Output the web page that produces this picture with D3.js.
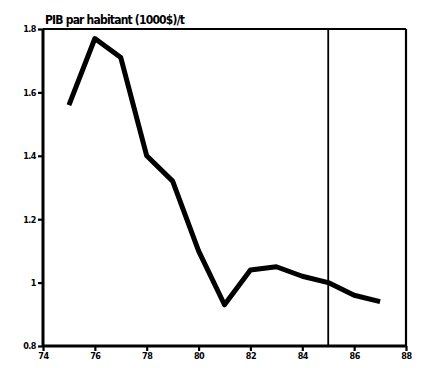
<!DOCTYPE html>
<html>
<head>
<meta charset="utf-8">
<script src="https://cdn.jsdelivr.net/npm/d3@7"></script>
<style>
  body { margin: 0; background: #fff; }
  text { font-family: "DejaVu Sans Condensed", "DejaVu Sans", sans-serif; font-weight: bold; fill: #000; }
</style>
</head>
<body>
<svg id="chart" width="424" height="368"></svg>
<script>
// PIB par habitant
const years = [75, 76, 77, 78, 79, 80, 81, 82, 83, 84, 85, 86, 87];
const pib   = [1.56, 1.77, 1.71, 1.40, 1.32, 1.10, 0.93, 1.04, 1.05, 1.02, 1.00, 0.96, 0.94];
const xTicks = [74, 76, 78, 80, 82, 84, 86, 88];
const yTicks = [0.8, 1, 1.2, 1.4, 1.6, 1.8];
const yTickLabels = ["0.8", "1", "1.2", "1.4", "1.6", "1.8"];
const markerYear = 85;
const title = "PIB par habitant (1000$)/t";

const svg = d3.select('#chart');
const m = { left: 43, right: 406, top: 29, bottom: 346 };

const x = d3.scaleLinear().domain([74, 88]).range([m.left, m.right]);
const y = d3.scaleLinear().domain([0.8, 1.8]).range([m.bottom, m.top]);

// frame (top + right edges are thinner than the axes)
svg.append('line').attr('x1', m.left).attr('x2', m.right).attr('y1', m.top).attr('y2', m.top)
   .attr('stroke', '#000').attr('stroke-width', 2.2);
svg.append('line').attr('x1', m.right).attr('x2', m.right).attr('y1', m.top).attr('y2', m.bottom)
   .attr('stroke', '#000').attr('stroke-width', 2.2);

// axes
const xAxis = d3.axisBottom(x).tickValues(xTicks).tickSize(5).tickPadding(2).tickFormat(d3.format('d'));
const yAxis = d3.axisLeft(y).tickValues(yTicks).tickSize(5).tickPadding(2)
   .tickFormat((d, i) => yTickLabels[i]);

const gx = svg.append('g').attr('transform', `translate(0,${m.bottom})`).call(xAxis);
const gy = svg.append('g').attr('transform', `translate(${m.left},0)`).call(yAxis);

[gx, gy].forEach(g => {
    g.select('.domain').attr('stroke-width', 3);
    g.selectAll('.tick line').attr('stroke-width', 2.2);
    g.selectAll('.tick text').style('font-size', '9px').style('letter-spacing', '-0.5px');
});
gy.select('.domain').attr('d', `M0,${m.bottom}V${m.top}`);
gx.select('.domain').attr('d', `M${m.left},0H${m.right}`);

// vertical marker at 85
svg.append('line')
   .attr('x1', x(markerYear)).attr('x2', x(markerYear))
   .attr('y1', m.top).attr('y2', m.bottom)
   .attr('stroke', '#000').attr('stroke-width', 1.8);

// series
const line = d3.line().x((d, i) => x(years[i])).y(d => y(d));
svg.append('path')
   .datum(pib)
   .attr('d', line)
   .attr('fill', 'none')
   .attr('stroke', '#000')
   .attr('stroke-width', 5)
   .attr('stroke-linejoin', 'round');

// title
svg.append('text')
   .attr('x', 45).attr('y', 24)
   .style('font-size', '12px')
   .style('letter-spacing', '-0.8px')
   .text(title);
</script>
</body>
</html>
